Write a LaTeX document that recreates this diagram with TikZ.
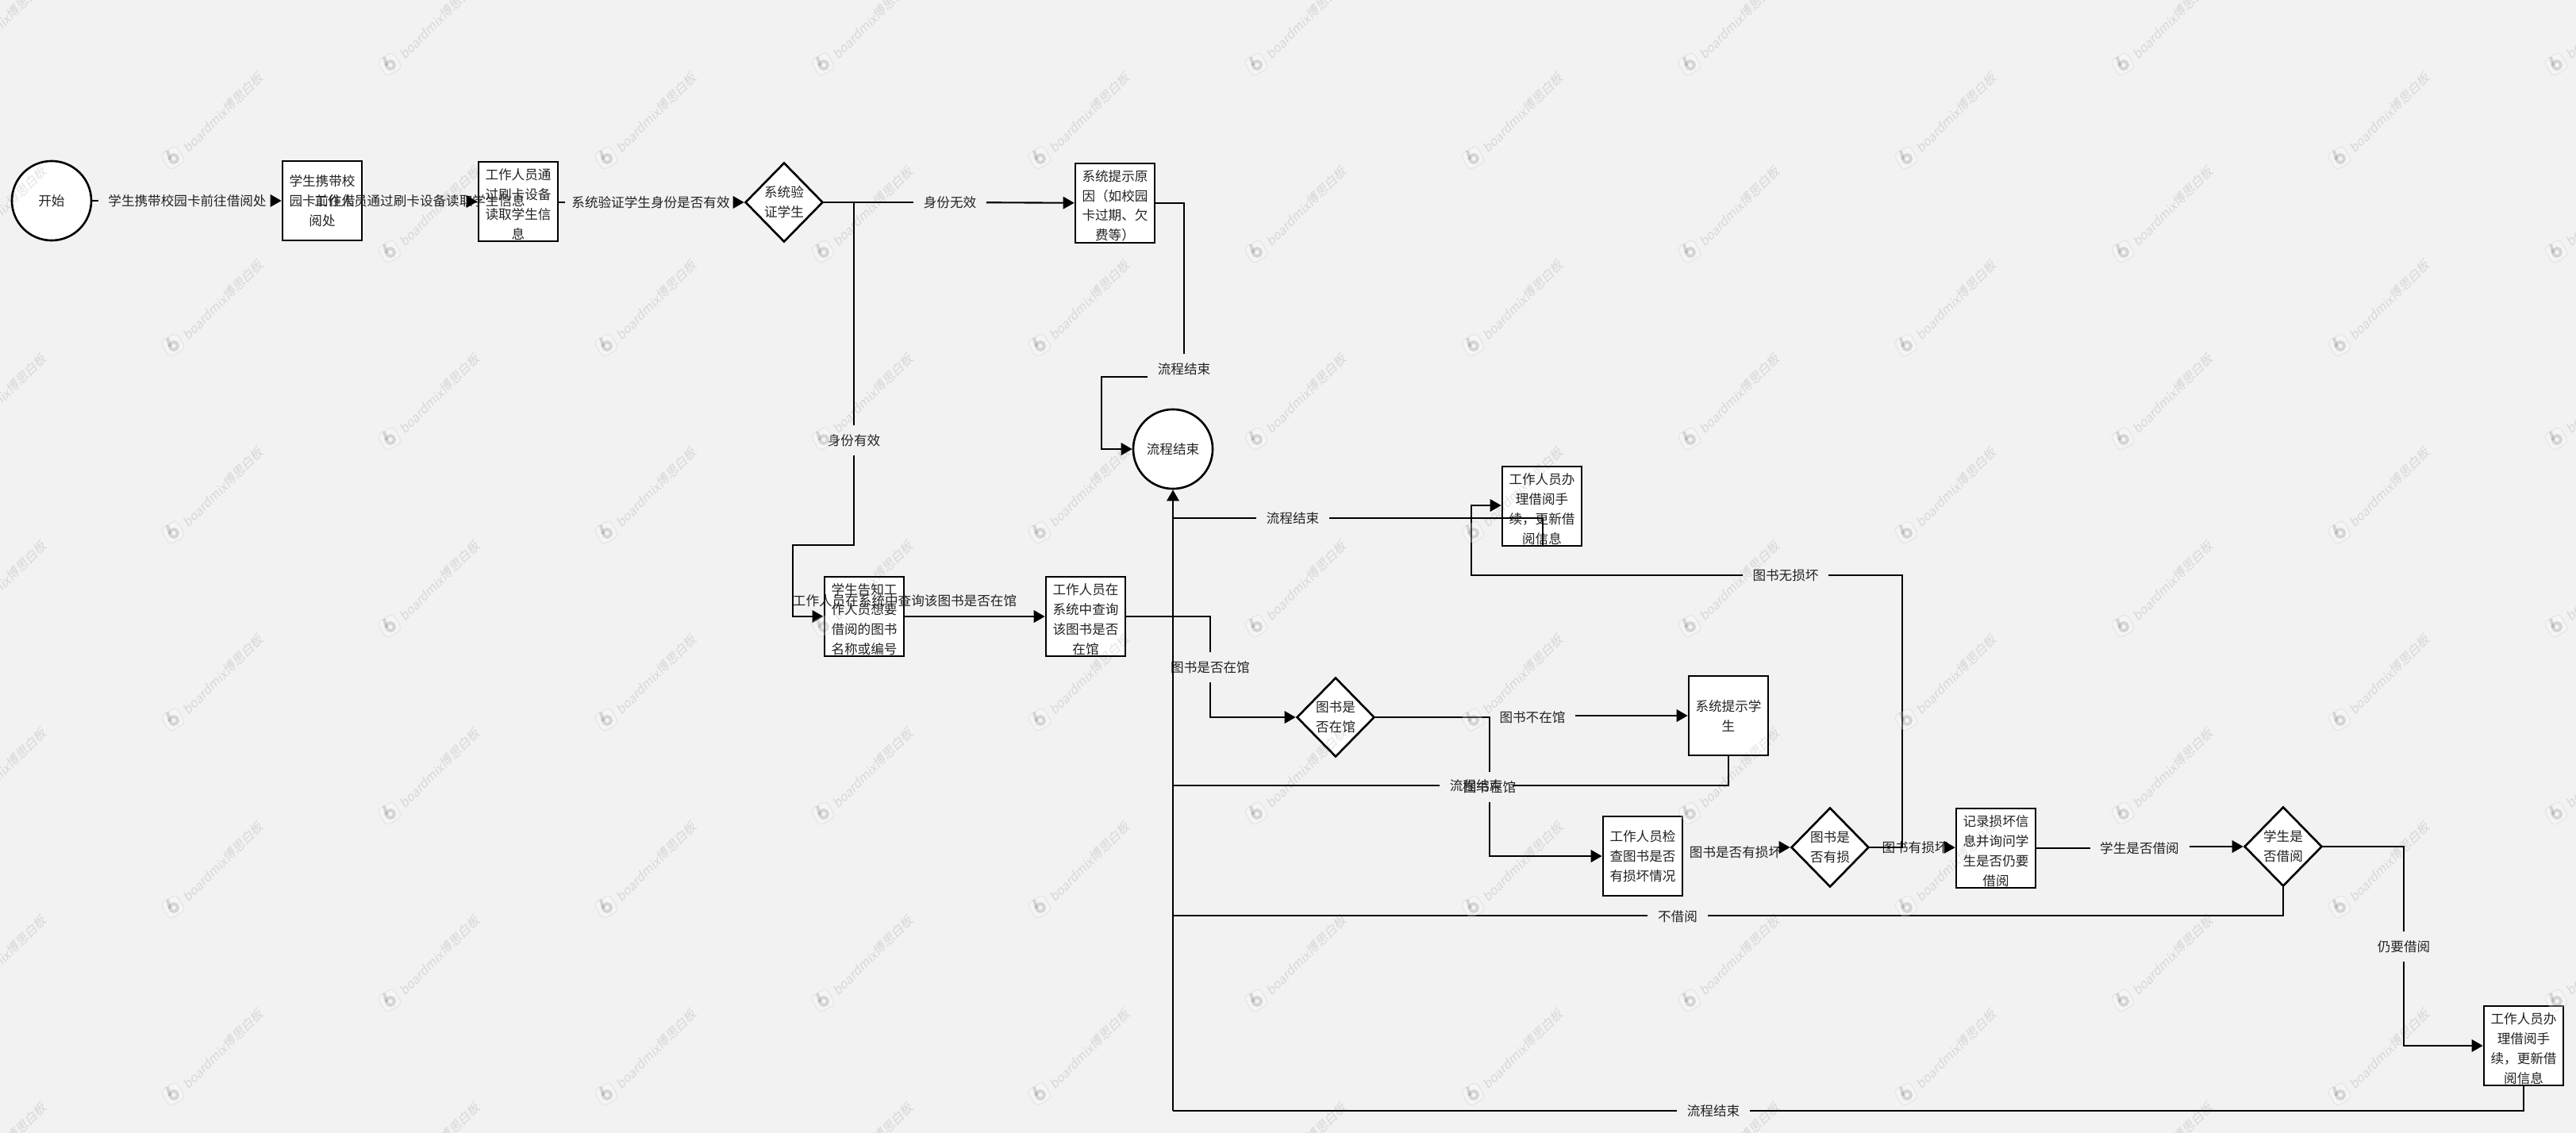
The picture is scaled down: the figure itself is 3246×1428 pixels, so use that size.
\documentclass[tikz,border=0pt]{standalone}
\usepackage{fontspec}
\setmainfont{Noto Sans CJK SC}
\newfontfamily\wmfont[FakeSlant=0.2]{Noto Sans CJK SC}
\usetikzlibrary{shapes.geometric,arrows.meta}
\definecolor{bgc}{HTML}{F2F2F2}
\definecolor{ink}{HTML}{222222}
\newcommand{\lowr}{\rule{0pt}{5.85pt}}
\tikzset{
  x=0.01cm,y=-0.01cm,
  txt/.style={font=\fontsize{4.72}{7.1}\selectfont,text=ink,align=center},
  boxn/.style={rectangle,draw=black,line width=.75pt,fill=white,minimum width=1cm,minimum height=1cm,inner sep=0pt,txt},
  circn/.style={circle,draw=black,line width=.75pt,fill=white,minimum size=1cm,inner sep=0pt,txt},
  dia/.style={diamond,draw=black,line width=.75pt,fill=white,minimum width=.98cm,minimum height=1cm,inner sep=0pt},
  lab/.style={txt,inner xsep=0.12cm,inner ysep=0pt,minimum height=0.36cm},
  free/.style={txt,inner sep=0pt},
  conn/.style={draw=black,line width=.6pt},
  arr/.style={conn,-{Triangle[length=4pt,width=4.4pt]}},
  wmt/.style={font=\wmfont\fontsize{4.5}{5}\selectfont,text=black,text opacity=.11,rotate=45,inner sep=0pt},
  wmb/.style={rectangle,rounded corners=1.5pt,draw=black,draw opacity=.05,fill=white,fill opacity=.3,rotate=30,minimum size=.23cm,inner sep=0pt},
}
\begin{document}
\begin{tikzpicture}
\fill[bgc] (0,0) rectangle (3246,1428);
\useasboundingbox (0,0) rectangle (3246,1428);

% process nodes
\node[circn] (start) at (65,253) {开始};
\node[boxn] (carry) at (406,253) {学生携带校\\园卡前往借\\阅处};
\node[boxn] (swipe) at (653,254) {\lowr 工作人员通\\过刷卡设备\\读取学生信\\息};
\node[dia,label={[txt]center:系统验\\证学生}] (valid) at (988,255) {};
\node[boxn] (reason) at (1405,256) {\lowr 系统提示原\\因（如校园\\卡过期、欠\\费等）};
\node[circn] (end) at (1478,566) {流程结束};
\node[boxn] (lendA) at (1943,638) {\lowr 工作人员办\\理借阅手\\续，更新借\\阅信息};
\node[boxn] (tell) at (1089,777) {\lowr 学生告知工\\作人员想要\\借阅的图书\\名称或编号};
\node[boxn] (query) at (1368,777) {\lowr 工作人员在\\系统中查询\\该图书是否\\在馆};
\node[dia,label={[txt]center:图书是\\否在馆}] (instock) at (1683,904) {};
\node[boxn] (notify) at (2178,902) {系统提示学\\生};
\node[boxn] (check) at (2070,1079) {工作人员检\\查图书是否\\有损坏情况};
\node[dia,label={[txt]center:图书是\\否有损}] (damaged) at (2306,1068) {};
\node[boxn] (record) at (2515,1069) {\lowr 记录损坏信\\息并询问学\\生是否仍要\\借阅};
\node[dia,label={[txt]center:学生是\\否借阅}] (borrow) at (2877,1067) {};
\node[boxn] (lendB) at (3180,1318) {\lowr 工作人员办\\理借阅手\\续，更新借\\阅信息};

% edge labels
\node[lab] (l1) at (236,253) {学生携带校园卡前往借阅处};
\node[free] (l2) at (529,253) {工作人员通过刷卡设备读取学生信息};
\node[lab,inner xsep=.08cm] (l3) at (820,255) {系统验证学生身份是否有效};
\node[lab] (l4) at (1197,255) {身份无效};
\node[lab,inner xsep=.04cm] (l5) at (1076,555) {身份有效};
\node[lab] (l6) at (1492,465) {流程结束};
\node[free] (l7) at (1140,757) {工作人员在系统中查询该图书是否在馆};
\node[lab] (l8) at (1525,841) {图书是否在馆};
\node[lab] (l9) at (1629,653) {流程结束};
\node[lab] (l10) at (1931,904) {图书不在馆};
\node[lab] (l11) at (1860,990) {流程结束};
\node[lab] (l12) at (1877,992) {图书在馆};
\node[free] (l13) at (2187,1074) {图书是否有损坏};
\node[lab] (l14) at (2250,725) {图书无损坏};
\node[free] (l15) at (2413,1068) {图书有损坏};
\node[lab] (l16) at (2696,1069) {学生是否借阅};
\node[lab] (l17) at (2114,1155) {不借阅};
\node[lab] (l18) at (3029,1193) {仍要借阅};
\node[lab] (l19) at (2159,1400) {流程结束};

% free start points of arrows whose lines are hidden behind their labels
\coordinate (endbus) at (1478,1399);
\coordinate (a2) at (588,254);
\coordinate (a5) at (2452,1068);
\coordinate (a13) at (2241,1068);

% main row
\path[conn] (start) -- (l1);
\path[arr] (l1) -- (carry);
\path[arr] (a2) -- (swipe);
\path[conn] (swipe.east |- l3) -- (l3);
\path[arr] (l3) -- (valid);

% validity branches
\path[conn] (valid.east) -- (l4);
\path[arr] (l4) -- (reason);
\path[conn] (valid.east) -- (1076,255) -- (l5);
\path[arr] (l5) -- (1076,687) -- (999,687) -- (999,777) -- (tell);
\path[conn] (reason) -- (1492,256) -- (l6);
\path[arr] (l6.west |- 0,475) -- (1388,475) -- (1388,566) -- (end);

% query
\path[arr] (tell) -- (query);
\path[conn] (query) -- (1525,777) -- (l8);
\path[arr] (l8) -- (1525,904) -- (instock);

% stock branches
\path[conn] (instock) -- (l10);
\path[arr] (l10.east |- 0,902) -- (notify.west);
\path[conn] (instock.east) -- (1877,904) -- (l12);
\path[arr] (l12) -- (1877,1079) -- (check);
\path[conn] (notify) -- (2178,990) -- (l11.east |- 0,990) ;
\path[conn] (l11) -- (1478,990);

% damage branches
\path[arr] (a13) -- (damaged);
\path[arr] (a5) -- (record);
\path[conn] (damaged.east) -- (2397,1068) -- (2397,725) -- (l14);
\path[arr] (l14) -- (1854,725) -- (1854,637) -- (lendA.west |- 0,637);

% borrow decision
\path[conn] (record) -- (l16);
\path[arr] (l16.east |- 0,1067) -- (borrow.west);
\path[conn] (borrow.south) -- (2877,1154) -- (l17.east |- 0,1154);
\path[conn] (l17.west |- 0,1154) -- (1478,1154);
\path[conn] (borrow.east) -- (3029,1067) -- (l18);
\path[arr] (l18) -- (3029,1318) -- (lendB);

% returns to the end node
\path[conn] (1944,687) -- (1944,653) -- (l9);
\path[conn] (l9) -- (1478,653);
\path[conn] (lendB.south) -- (3180,1400) -- (l19);
\path[conn] (l19) -- (endbus |- 0,1400);
\path[arr] (endbus |- 0,1400) -- (end.south);

% watermark
\begin{scope}
\clip (0,0) rectangle (3246,1428);
\foreach \i in {-1,...,11}{
  \foreach \j in {-1,...,6}{
    \pgfmathsetmacro{\wx}{218+273*\i}
    \pgfmathsetmacro{\wy}{199-118*mod(\i+2,2)+236*\j}
    \node[wmb] (wb\i x\j) at (\wx,\wy) {};
    \draw[black,opacity=.13,line width=1.1pt] (\wx+1,\wy+1) circle (5);
    \draw[black,opacity=.13,line width=1.1pt] (\wx-4,\wy+2) -- (\wx-7,\wy-9);
    \node[wmt] (wt\i x\j) at (\wx+63,\wy-57) {boardmix博思白板};
  }
}
\end{scope}
\end{tikzpicture}
\end{document}
